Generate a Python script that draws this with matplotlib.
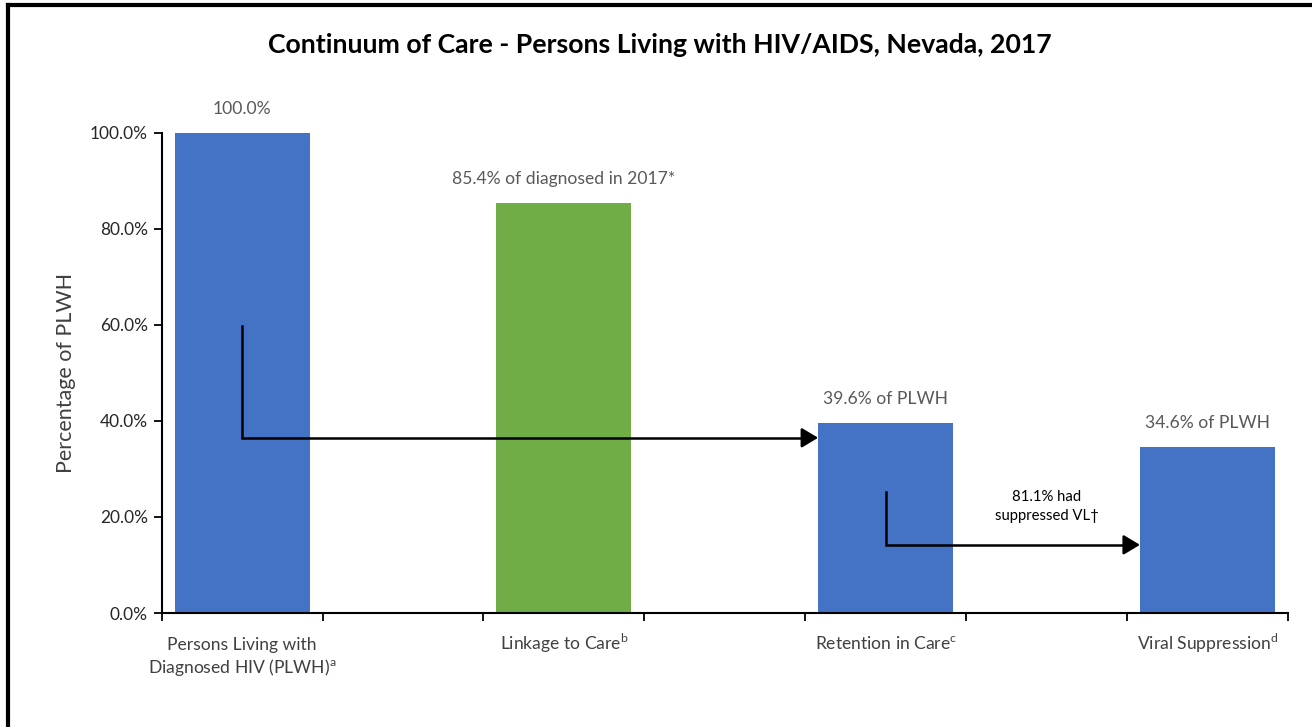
import matplotlib.pyplot as plt
from matplotlib.lines import Line2D
from matplotlib.ticker import FixedLocator
from matplotlib.transforms import offset_copy

plt.rcParams['font.family'] = ['Lato', 'DejaVu Sans']
plt.rcParams['mathtext.fontset'] = 'custom'
plt.rcParams['mathtext.rm'] = 'Lato'

# data
categories = ["Persons Living with\nDiagnosed HIV (PLWH)$^{\\mathrm{a}}$",
              "Linkage to Care$^{\\mathrm{b}}$",
              "Retention in Care$^{\\mathrm{c}}$",
              "Viral Suppression$^{\\mathrm{d}}$"]
values = [100.0, 85.4, 39.6, 34.6]
bar_labels = ["100.0%", "85.4% of diagnosed in 2017*", "39.6% of PLWH", "34.6% of PLWH"]
colors = ["#4472C4", "#70AD47", "#4472C4", "#4472C4"]
slots = [0, 2, 4, 6]

fig = plt.figure(figsize=(13.12, 7.27), dpi=100)
ax = fig.add_axes([0.1232, 0.1568, 0.8585, 0.6603])

bw = 0.84
ax.bar(slots, values, width=bw, color=colors, zorder=2)

for x, v, lab in zip(slots, values, bar_labels):
    ax.text(x, v + 3.3, lab, ha='center', va='bottom', fontsize=12.6,
            color='#595959', clip_on=False)

ax.set_xlim(-0.5, 6.5)
ax.set_ylim(0, 100)
ax.set_yticks([0, 20, 40, 60, 80, 100])
ax.set_yticklabels([f"{t:.1f}%" for t in [0, 20, 40, 60, 80, 100]],
                   fontsize=12.4, color='#262626')
ax.set_xticks(slots)
ax.set_xticklabels([])
ax.tick_params(axis='x', which='major', length=0)
ax.xaxis.set_minor_locator(FixedLocator([i - 0.5 for i in range(8)]))
ax.tick_params(axis='x', which='minor', length=6, width=1.3, color='black')
ax.tick_params(axis='y', length=6, width=1.3, color='black', pad=4)

# category labels, one line at a time on a shared baseline
for x, cat in zip(slots, categories):
    for j, line in enumerate(cat.split("\n")):
        tr = offset_copy(ax.get_xaxis_transform(), fig, y=-(26.6 + 16.6 * j), units='points')
        ax.text(x, 0, line, transform=tr, ha='center', va='baseline',
                fontsize=12.6, color='#404040', clip_on=False)

for s in ['top', 'right']:
    ax.spines[s].set_visible(False)
for s in ['left', 'bottom']:
    ax.spines[s].set_linewidth(1.5)

ax.set_ylabel("Percentage of PLWH", fontsize=15.5, color='#404040', labelpad=10)

# step arrows
def step_arrow(x0, y0, y1, x1):
    ax.plot([x0, x0, x1 - 0.05], [y0, y1, y1], color='black', lw=1.8, zorder=3,
            solid_joinstyle='miter')
    ax.annotate("", xy=(x1, y1), xytext=(x1 - 0.06, y1),
                arrowprops=dict(arrowstyle='-|>,head_length=1.0,head_width=0.6',
                                color='black', lw=1.8, shrinkA=0, shrinkB=0),
                zorder=3)

step_arrow(0, 59.8, 36.5, 4 - bw / 2)
step_arrow(4, 25.2, 14.2, 6 - bw / 2)

ax.text(5.0, 22.2, "81.1% had\nsuppressed VL\u2020", ha='center', va='center',
        fontsize=10.7, color='black', linespacing=1.45)

fig.text(0.503, 0.938, "Continuum of Care - Persons Living with HIV/AIDS, Nevada, 2017",
         ha='center', va='center', fontsize=19.2, fontweight='bold', color='black')

# outer frame (left and top edges visible)
fig.add_artist(Line2D([0.0064, 0.0064], [0.0, 0.9925], transform=fig.transFigure,
                      color='black', lw=3))
fig.add_artist(Line2D([0.0064, 1.0], [0.9925, 0.9925], transform=fig.transFigure,
                      color='black', lw=3))

fig.savefig("out.png", dpi=100)
